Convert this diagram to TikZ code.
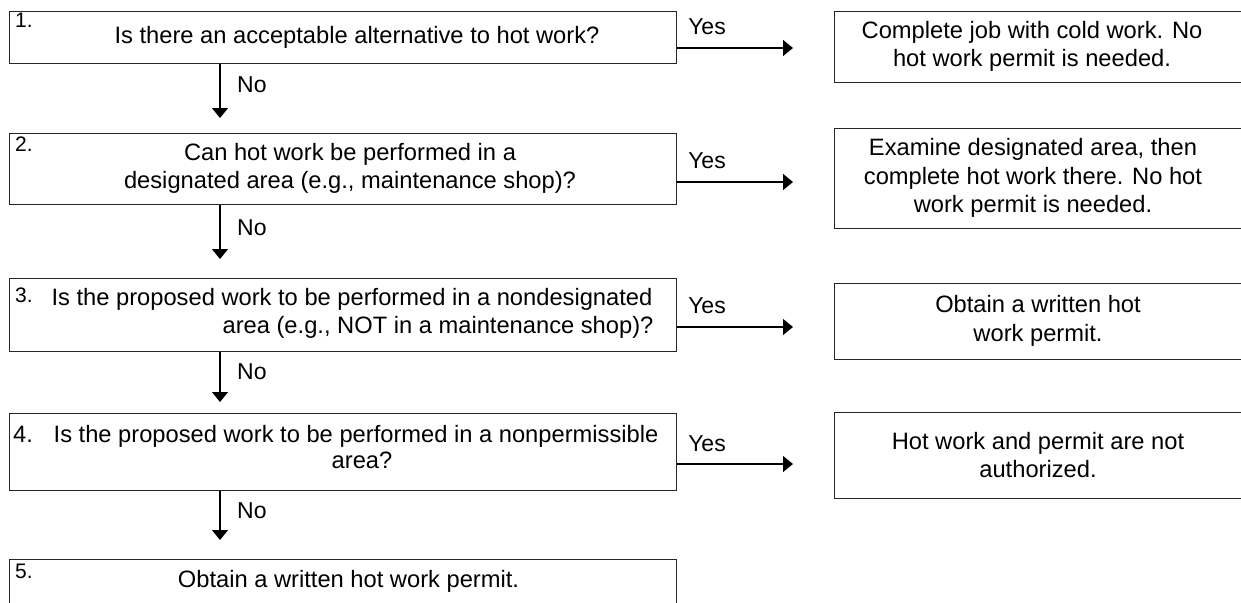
\documentclass[tikz,border=0pt]{standalone}
\usepackage{fontspec}
\setmainfont{Liberation Sans}
\usetikzlibrary{arrows.meta}
\begin{document}
\begin{tikzpicture}[x=1pt,y=-1pt,
  box/.style={draw=black!85, line width=1.3pt, inner sep=0pt, anchor=north west},
  qtxt/.style={font=\fontsize{23.7}{28.5}\selectfont, align=center, inner sep=0pt},
  ltxt/.style={font=\fontsize{23.7}{28.5}\selectfont, inner sep=0pt, anchor=base},
  num/.style={font=\fontsize{21}{24}\selectfont, inner sep=0pt, anchor=north west},
  lab/.style={font=\fontsize{23}{27}\selectfont, inner sep=0pt},
  arr/.style={draw=black, line width=1.3pt, -{Triangle[length=10pt,width=16pt]}},
]
\useasboundingbox (0,0) rectangle (1241,602);

% question boxes
\node[box, minimum width=667pt, minimum height=52pt] (q1) at (9,11) {};
\node[box, minimum width=667pt, minimum height=71pt] (q2) at (9,133) {};
\node[box, minimum width=667pt, minimum height=73pt] (q3) at (9,278) {};
\node[box, minimum width=667pt, minimum height=77pt] (q4) at (9,413) {};
\node[box, minimum width=667pt, minimum height=70pt] (q5) at (9,559) {};

% result boxes (run past the right edge)
\node[box, minimum width=430pt, minimum height=71pt] (r1) at (834,11) {};
\node[box, minimum width=430pt, minimum height=100pt] (r2) at (834,128) {};
\node[box, minimum width=430pt, minimum height=76pt] (r3) at (834,283) {};
\node[box, minimum width=430pt, minimum height=86pt] (r4) at (834,412) {};

% numbers
\node[num] (n1) at (15,13) {1.};
\node[num] (n2) at (15,137) {2.};
\node[num] (n3) at (15,288) {3.};
\node[ltxt, anchor=base west] (n4) at (13,442) {4.};
\node[num] (n5) at (15,564) {5.};

% question texts
\node[qtxt] (t1) at (357,37) {Is there an acceptable alternative to hot work?};
\node[qtxt] (t2) at (350,168.5) {Can hot work be performed in a\\designated area (e.g., maintenance shop)?};
\node[ltxt] (t3a) at (352,305) {Is the proposed work to be performed in a nondesignated};
\node[ltxt] (t3b) at (438,333) {area (e.g., NOT in a maintenance shop)?};
\node[ltxt] (t4a) at (356,442) {Is the proposed work to be performed in a nonpermissible};
\node[ltxt] (t4b) at (362,468) {area?};
\node[ltxt] (t5) at (348.5,587) {Obtain a written hot work permit.};

% result texts
\node[qtxt] (s1) at (1032,46.5) {Complete job with cold work. No\\hot work permit is needed.};
\node[qtxt] (s2) at (1033,178) {Examine designated area, then\\complete hot work there. No hot\\work permit is needed.};
\node[qtxt] (s3) at (1038,321) {Obtain a written hot\\work permit.};
\node[qtxt] (s4) at (1038,455) {Hot work and permit are not\\authorized.};

% Yes connectors
\coordinate (h1) at (793,48);
\coordinate (h2) at (793,182);
\coordinate (h3) at (793,327);
\coordinate (h4) at (793,464);
\draw[arr] (q1.east |- h1) -- (h1);
\draw[arr] (q2.east |- h2) -- (h2);
\draw[arr] (q3.east |- h3) -- (h3);
\draw[arr] (q4.east |- h4) -- (h4);
\node[lab] (y1) at (707,27) {Yes};
\node[lab] (y2) at (707,161) {Yes};
\node[lab] (y3) at (707,306) {Yes};
\node[lab] (y4) at (707,444) {Yes};

% No connectors
\coordinate (v1) at (220,118);
\coordinate (v2) at (220,259);
\coordinate (v3) at (220,402);
\coordinate (v4) at (220,540);
\draw[arr] (q1.south -| v1) -- (v1);
\draw[arr] (q2.south -| v2) -- (v2);
\draw[arr] (q3.south -| v3) -- (v3);
\draw[arr] (q4.south -| v4) -- (v4);
\node[lab, anchor=west] (o1) at (237,85) {No};
\node[lab, anchor=west] (o2) at (237,228) {No};
\node[lab, anchor=west] (o3) at (237,372) {No};
\node[lab, anchor=west] (o4) at (237,511) {No};
\end{tikzpicture}
\end{document}
